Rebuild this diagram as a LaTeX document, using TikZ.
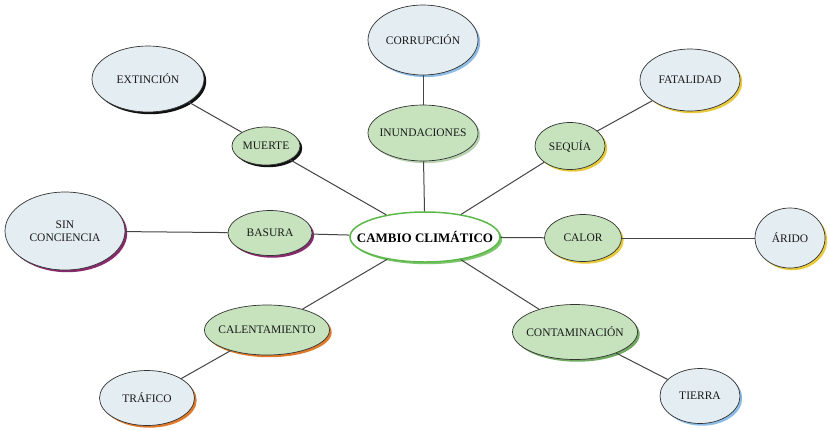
\documentclass[tikz,border=0pt]{standalone}
\usepackage{fontspec}
\setmainfont{Liberation Serif}
\usetikzlibrary{shapes.geometric,shadows}
\definecolor{outerfill}{HTML}{E4EDF2}
\definecolor{innerfill}{HTML}{C6E3BE}
\definecolor{linkgray}{HTML}{444444}
\definecolor{shyellow}{HTML}{E8C93A}
\definecolor{shblue}{HTML}{8DBDE6}
\definecolor{shorange}{HTML}{E07A2A}
\definecolor{shpurple}{HTML}{8A2A6E}
\definecolor{shgreen}{HTML}{6FA860}
\definecolor{shblack}{HTML}{111111}
\definecolor{centergreen}{HTML}{5DB84A}
\tikzset{
  bubble/.style={ellipse, draw=black!80, line width=0.7pt, inner xsep=-15pt, inner ysep=0pt,
    font=\fontsize{11.5}{12.5}\selectfont, align=center, text=black!90},
  outerb/.style={bubble, fill=outerfill},
  innerb/.style={bubble, fill=innerfill},
  sh/.style={drop shadow={fill=#1, opacity=1, shadow xshift=2.2pt, shadow yshift=-2.2pt}},
  link/.style={draw=linkgray, line width=1pt},
}
\begin{document}
\begin{tikzpicture}[x=1pt,y=-1pt]
\useasboundingbox[fill=white] (0,0) rectangle (829,429);
% center
\node[ellipse, draw=centergreen, line width=1.5pt, fill=white, minimum width=150pt, minimum height=50pt,
  inner xsep=-25pt, inner ysep=0pt,
  font=\fontsize{13}{14}\bfseries\selectfont, sh=centergreen!80] (c) at (425,237) {CAMBIO CLIMÁTICO};
% inner nodes
\node[innerb, minimum width=110pt, minimum height=56pt, sh=shgreen!50] (inu) at (423,133) {INUNDACIONES};
\node[innerb, minimum width=68pt, minimum height=38pt, sh=shblack] (mue) at (266,146) {MUERTE};
\node[innerb, minimum width=70pt, minimum height=47pt, sh=shyellow] (seq) at (570,146) {SEQUÍA};
\node[innerb, minimum width=84pt, minimum height=45pt, sh=shpurple] (bas) at (270,233) {BASURA};
\node[innerb, minimum width=77pt, minimum height=47pt, sh=shyellow] (cal) at (583,238) {CALOR};
\node[innerb, minimum width=125pt, minimum height=50pt, sh=shorange] (ctm) at (267,330) {CALENTAMIENTO};
\node[innerb, minimum width=125pt, minimum height=55pt, sh=shgreen] (con) at (575,332) {CONTAMINACIÓN};
% outer nodes
\node[outerb, minimum width=110pt, minimum height=70pt, sh=shblue] (cor) at (423,40) {CORRUPCIÓN};
\node[outerb, minimum width=112pt, minimum height=66pt, sh=shblack] (ext) at (148,79) {EXTINCIÓN};
\node[outerb, minimum width=100pt, minimum height=62pt, sh=shyellow] (fat) at (690,80) {FATALIDAD};
\node[outerb, minimum width=120pt, minimum height=78pt, sh=shpurple] (sin) at (65,231) {SIN\\CONCIENCIA};
\node[outerb, minimum width=70pt, minimum height=60pt, sh=shyellow] (ari) at (790,238) {ÁRIDO};
\node[outerb, minimum width=95pt, minimum height=55pt, sh=shorange] (tra) at (147,398) {TRÁFICO};
\node[outerb, minimum width=80pt, minimum height=55pt, sh=shblue] (tie) at (700,396) {TIERRA};
% links
\draw[link] (c) -- (inu);
\draw[link] (c) -- (mue);
\draw[link] (c) -- (seq);
\draw[link] (c) -- (bas);
\draw[link] (c) -- (cal);
\draw[link] (c) -- (ctm);
\draw[link] (c) -- (con);
\draw[link] (inu) -- (cor);
\draw[link] (mue) -- (ext);
\draw[link] (seq) -- (fat);
\draw[link] (bas) -- (sin);
\draw[link] (cal) -- (ari);
\draw[link] (ctm) -- (tra);
\draw[link] (con) -- (tie);
\end{tikzpicture}
\end{document}
